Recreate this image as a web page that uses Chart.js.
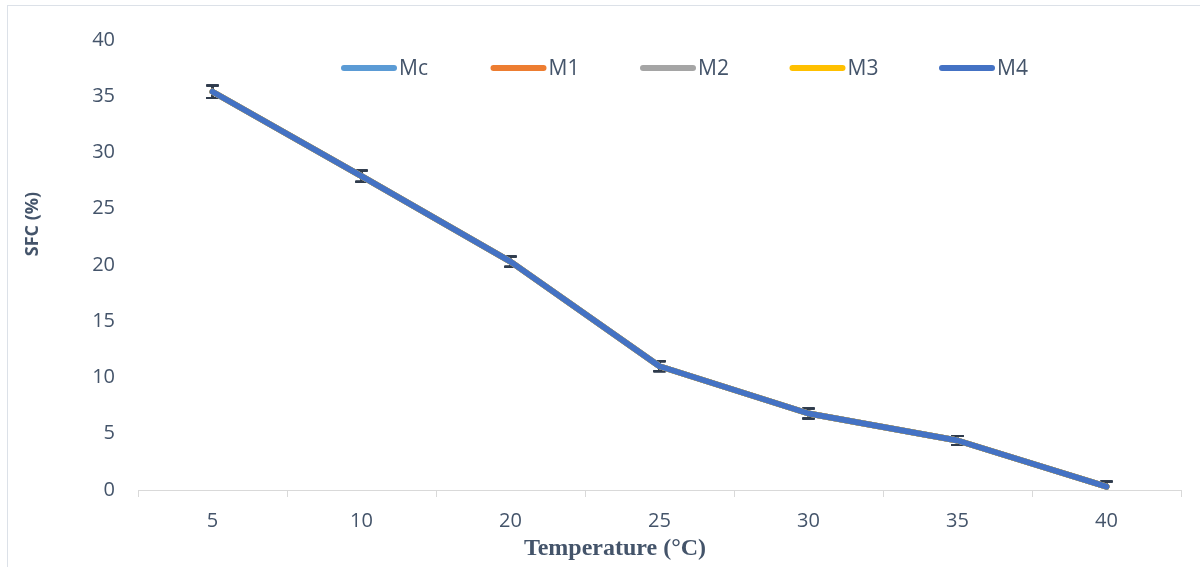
<!DOCTYPE html>
<html>
<head>
<meta charset="utf-8">
<script src="https://cdn.jsdelivr.net/npm/chart.js@4.4.1/dist/chart.umd.min.js"></script>
<style>
    html, body { margin: 0; padding: 0; background: #fff; overflow: hidden; }
    #frame { position: absolute; left: 7px; top: 5px; width: 1300px; height: 700px; border: 1.5px solid #DCE1E8; }
    #wrap { position: absolute; left: 0; top: 0; width: 1200px; height: 567px; }
</style>
</head>
<body>
<div id="frame"></div>
<div id="wrap"><canvas id="sfcChart"></canvas></div>
<script>
// temperatures (x categories)
const temperatures = ['5', '10', '20', '25', '30', '35', '40'];

// solid fat content per blend (%), the curves overlap
const sfcMc = [35.4, 27.9, 20.3, 11.0, 6.8, 4.4, 0.3];
const sfcM1 = [35.4, 27.9, 20.3, 11.0, 6.8, 4.4, 0.3];
const sfcM2 = [35.4, 27.9, 20.3, 11.0, 6.8, 4.4, 0.3];
const sfcM3 = [35.4, 27.9, 20.3, 11.0, 6.8, 4.4, 0.3];
const sfcM4 = [35.4, 27.9, 20.3, 11.0, 6.8, 4.4, 0.3];

// standard deviation
const sfcError = [0.55, 0.5, 0.45, 0.45, 0.45, 0.4, 0.45];

const seriesNames = ['Mc', 'M1', 'M2', 'M3', 'M4'];
const seriesValues = [sfcMc, sfcM1, sfcM2, sfcM3, sfcM4];
const seriesColors = ['#5B9BD5', '#ED7D31', '#A5A5A5', '#FFC000', '#4472C4'];

const textColor = '#44546A';

//..error bars under the lines
const errorBarPlugin = {
    id: 'errorBars',
    beforeDatasetsDraw(chart) {
        const { ctx, chartArea, scales: { x, y } } = chart;
        ctx.save();
        ctx.beginPath();
        ctx.rect(chartArea.left, chartArea.top - 20, chartArea.width, chartArea.height + 20);
        ctx.clip();
        ctx.strokeStyle = '#2F3B4C';
        ctx.lineWidth = 2;
        chart.data.datasets.forEach(ds => {
            ds.data.forEach((v, i) => {
                const px = x.getPixelForValue(i);
                const top = y.getPixelForValue(v + sfcError[i]);
                const bot = y.getPixelForValue(v - sfcError[i]);
                ctx.beginPath();
                ctx.moveTo(px, top); ctx.lineTo(px, bot);
                ctx.moveTo(px - 6, top); ctx.lineTo(px + 6, top);
                ctx.moveTo(px - 6, bot); ctx.lineTo(px + 6, bot);
                ctx.stroke();
            });
        });
        ctx.restore();
    }
};

//..legend and axis titles
const decorPlugin = {
    id: 'decor',
    afterDraw(chart) {
        const ctx = chart.ctx;
        ctx.save();
        // legend
        ctx.font = "21px 'Open Sans'";
        ctx.textBaseline = 'middle';
        ctx.textAlign = 'left';
        seriesNames.forEach((name, i) => {
            const x0 = 341 + i * 149.5;
            ctx.strokeStyle = seriesColors[i];
            ctx.lineWidth = 6;
            ctx.lineCap = 'round';
            ctx.beginPath();
            ctx.moveTo(x0 + 3, 68);
            ctx.lineTo(x0 + 53, 68);
            ctx.stroke();
            ctx.fillStyle = textColor;
            ctx.fillText(name, x0 + 58, 69);
        });

        // x title
        ctx.fillStyle = textColor;
        ctx.textAlign = 'center';
        ctx.font = "bold 24px 'Liberation Serif'";
        ctx.fillText('Temperature (°C)', 615, 549);

        // y title
        ctx.translate(33, 224);
        ctx.rotate(-Math.PI / 2);
        ctx.font = "bold 18px 'Open Sans'";
        ctx.fillText('SFC (%)', 0, 0);
        ctx.restore();
    }
};

function createChart() {
    Chart.defaults.font.family = "'Open Sans', sans-serif";
    Chart.defaults.color = textColor;

    new Chart(document.getElementById('sfcChart'), {
        type: 'line',
        data: {
            labels: temperatures,
            datasets: seriesNames.map((name, i) => ({
                label: name,
                data: seriesValues[i],
                borderColor: seriesColors[i],
                backgroundColor: seriesColors[i],
                borderWidth: 6,
                borderCapStyle: 'round',
                borderJoinStyle: 'round',
                pointRadius: 0,
                tension: 0,
                order: seriesNames.length - i
            }))
        },
        options: {
            responsive: true,
            maintainAspectRatio: false,
            animation: false,
            layout: { padding: { left: 0, right: 19, top: 40, bottom: 0 } },
            scales: {
                x: {
                    offset: true,
                    grid: {
                        display: true,
                        drawOnChartArea: false,
                        drawTicks: true,
                        tickLength: 7,
                        color: '#D9D9D9',
                        offset: true
                    },
                    border: { display: true, color: '#D9D9D9', width: 1 },
                    ticks: { color: textColor, font: { size: 20 }, padding: 12 },
                    afterFit(scale) { scale.height = 77; }
                },
                y: {
                    min: 0,
                    max: 40,
                    grid: { display: false, drawTicks: false },
                    border: { display: false },
                    ticks: { stepSize: 5, color: textColor, font: { size: 20 }, padding: 23 },
                    afterFit(scale) { scale.width = 138; }
                }
            },
            plugins: {
                legend: { display: false },
                tooltip: { enabled: false }
            }
        },
        plugins: [errorBarPlugin, decorPlugin]
    });
}

document.addEventListener('DOMContentLoaded', createChart);
</script>
</body>
</html>
